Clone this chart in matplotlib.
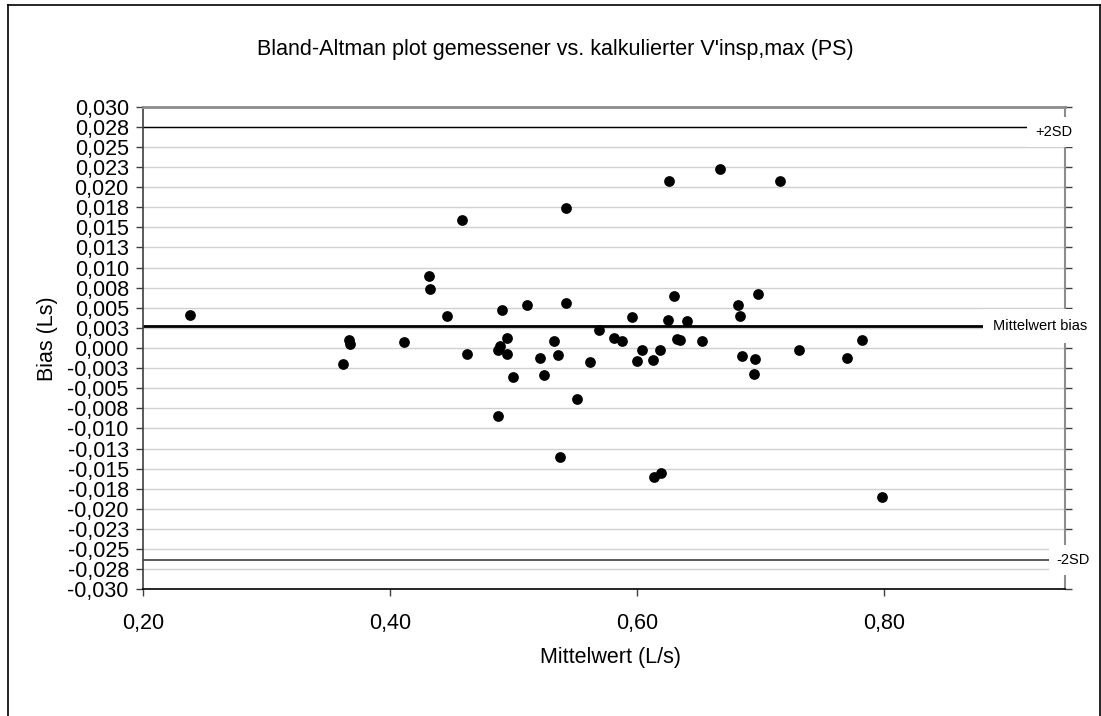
import matplotlib
matplotlib.use("Agg")
import matplotlib.pyplot as plt
from matplotlib.lines import Line2D
from decimal import Decimal, ROUND_HALF_UP

# Mittelwert (L/s) and Bias (Ls)
mittelwert = [0.2385, 0.3668, 0.3679, 0.3617, 0.4116, 0.4318, 0.4326, 0.4580,
              0.4461, 0.4625, 0.4908, 0.4949, 0.4887, 0.4871, 0.4944, 0.4997,
              0.4876, 0.5108, 0.5213, 0.5248, 0.5329, 0.5359, 0.5426, 0.5426,
              0.5512, 0.5693, 0.5617, 0.5809, 0.5879, 0.5955, 0.6040, 0.5995,
              0.6124, 0.6184, 0.6256, 0.6669, 0.7152, 0.6297, 0.6251, 0.6402,
              0.6321, 0.6345, 0.6523, 0.6817, 0.6828, 0.6974, 0.6844, 0.6952,
              0.6941, 0.7309, 0.5375, 0.6135, 0.6189, 0.7693, 0.7820, 0.7977]
bias = [0.0041, 0.0010, 0.0005, -0.0020, 0.0008, 0.0090, 0.0073, 0.0159,
        0.0040, -0.0007, 0.0047, 0.0012, 0.0002, -0.0003, -0.0007, -0.0036,
        -0.0084, 0.0054, -0.0013, -0.0034, 0.0009, -0.0009, 0.0174, 0.0056,
        -0.0064, 0.0022, -0.0018, 0.0012, 0.0009, 0.0039, -0.0002, -0.0016,
        -0.0015, -0.0003, 0.0208, 0.0223, 0.0208, 0.0065, 0.0035, 0.0034,
        0.0011, 0.0010, 0.0009, 0.0053, 0.0040, 0.0067, -0.0010, -0.0014,
        -0.0032, -0.0002, -0.0136, -0.0160, -0.0155, -0.0013, 0.0010, -0.0185]

mean_bias = 0.0027
upper_sd = 0.0275
lower_sd = -0.0264

x_ticks = [0.2, 0.4, 0.6, 0.8]
y_ticks = [i * 0.0025 for i in range(-12, 13)]

plt.rcParams['font.family'] = ['Liberation Sans', 'DejaVu Sans']


def comma(v, digits):
    if abs(v) < 1e-12:
        v = 0.0
    q = Decimal(str(round(v, 6))).quantize(Decimal(1).scaleb(-digits), rounding=ROUND_HALF_UP)
    return str(q).replace('.', ',')


fig = plt.figure(figsize=(11.01, 7.16), dpi=100)
ax = fig.add_axes([0.1296, 0.1770, 0.8377, 0.6740])

ax.set_xlim(0.2, 0.946)
ax.set_ylim(-0.030, 0.030)

for yt in y_ticks:
    ax.axhline(yt, color='#d0d0d0', lw=1.0, zorder=1)

ax.axhline(upper_sd, color='black', lw=1.0, zorder=2)
ax.axhline(lower_sd, color='#404040', lw=1.2, zorder=2)
ax.axhline(mean_bias, color='black', lw=2.0, zorder=2)

ax.scatter(mittelwert, bias, s=60, color='black', zorder=4, linewidths=0)

box = dict(facecolor='white', edgecolor='none', boxstyle='square,pad=0.55')
ax.text(0.9216, 0.0268, '+2SD', fontsize=10.5, va='center', ha='left',
        bbox=box, zorder=5, clip_on=False)
ax.text(0.8876, mean_bias, 'Mittelwert bias', fontsize=10.5, va='center', ha='left',
        bbox=dict(facecolor='white', edgecolor='none', boxstyle='square,pad=0.7'),
        zorder=5, clip_on=False)
ax.text(0.9394, lower_sd, '-2SD', fontsize=10.5, va='center', ha='left',
        bbox=box, zorder=5, clip_on=False)

ax.set_xticks(x_ticks)
ax.set_xticklabels([comma(v, 2) for v in x_ticks])
ax.set_yticks(y_ticks)
ax.set_yticklabels([comma(v, 3) for v in y_ticks])

ax.tick_params(axis='y', direction='out', length=5, width=1, color='#404040',
               labelsize=15.5, pad=5, right=True)
ax.tick_params(axis='x', direction='out', length=5, width=1, color='#404040',
               labelsize=15.5, pad=12)

ax.spines['left'].set_color('#404040')
ax.spines['left'].set_linewidth(1.2)
ax.spines['bottom'].set_color('black')
ax.spines['bottom'].set_linewidth(1.2)
ax.spines['top'].set_color('#8c8c8c')
ax.spines['top'].set_linewidth(2.0)
ax.spines['right'].set_color('#8c8c8c')
ax.spines['right'].set_linewidth(1.5)

fig.text(555 / 1101, 1 - 50 / 716,
         "Bland-Altman plot gemessener vs. kalkulierter V'insp,max (PS)",
         fontsize=15.5, ha='center', va='center')
fig.text(611 / 1101, 1 - 657 / 716, 'Mittelwert (L/s)', fontsize=15.5,
         ha='center', va='center')
fig.text(48 / 1101, 1 - 339 / 716, 'Bias (Ls)', fontsize=15.5, rotation=90,
         ha='center', va='center')

# outer chart border
bx0, by1, bx1 = 7.5 / 1101, 1 - 5 / 716, 1099.5 / 1101
for xs, ys in [([bx0, bx0], [0, by1]), ([bx0, bx1], [by1, by1]), ([bx1, bx1], [by1, 0])]:
    fig.add_artist(Line2D(xs, ys, color='black', lw=1.2))

fig.savefig('out.png', dpi=100)
